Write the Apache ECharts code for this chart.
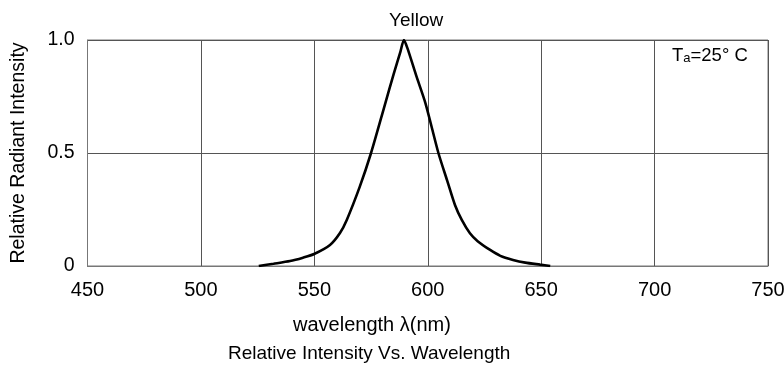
<!DOCTYPE html>
<html>
<head>
<meta charset="utf-8">
<script src="https://cdn.jsdelivr.net/npm/echarts@6/dist/echarts.min.js"></script>
<style>html,body{margin:0;padding:0;background:#fff;}#c{width:784px;height:371px;}</style>
</head>
<body>
<div id="c"></div>
<script>
const wavelengths = [525.5, 532, 539.3, 545, 549.9, 556.9, 561.3, 564.3, 570, 575, 581, 585, 588, 589.5, 591, 595, 599, 604.7, 608.5, 612, 615, 618.6, 622, 627.5, 632, 637.6, 643, 649.5, 654];
const intensity   = [0, 0.01, 0.022, 0.037, 0.053, 0.093, 0.146, 0.204, 0.35, 0.5, 0.71, 0.85, 0.95, 1.0, 0.965, 0.84, 0.72, 0.5, 0.38, 0.27, 0.204, 0.145, 0.11, 0.071, 0.045, 0.027, 0.015, 0.006, 0];
const xTicks = [450, 500, 550, 600, 650, 700, 750];
const yTicks = [0, 0.5, 1.0];
const yTickLabels = ['0', '0.5', '1.0'];
const titleText = 'Yellow';
const xName = 'wavelength \u03bb(nm)';
const yName = 'Relative Radiant Intensity';
const caption = 'Relative Intensity Vs. Wavelength';

const FONT = '"Liberation Sans", Arial, sans-serif';
const chart = echarts.init(document.getElementById('c'), null, {renderer: 'canvas'});
const seriesData = wavelengths.map((w, i) => [w, intensity[i]]);
chart.setOption({
  animation: false,
  backgroundColor: '#fff',
  title: {
    text: titleText, left: 384, top: 6,
    textStyle: {fontFamily: FONT, fontSize: 19, fontWeight: 'normal', color: '#000'}
  },
  grid: {left: 87.5, right: 16, top: 40, bottom: 105, show: true, borderColor: '#777', borderWidth: 1, outerBoundsMode: 'none', containLabel: false},
  xAxis: {
    type: 'value', min: xTicks[0], max: xTicks[xTicks.length - 1], interval: 50,
    axisLine: {show: true, lineStyle: {color: '#777', width: 1}},
    axisTick: {show: false},
    splitLine: {show: true, lineStyle: {color: '#555', width: 1}},
    axisLabel: {fontFamily: FONT, fontSize: 20, color: '#000', margin: 14}
  },
  yAxis: {
    type: 'value', min: yTicks[0], max: yTicks[yTicks.length - 1], interval: 0.5,
    name: yName, nameLocation: 'middle', nameGap: 59, nameRotate: 90,
    nameTextStyle: {fontFamily: FONT, fontSize: 19.5, color: '#000'},
    axisLine: {show: true, lineStyle: {color: '#777', width: 1}},
    axisTick: {show: false},
    splitLine: {show: true, lineStyle: {color: '#555', width: 1}},
    axisLabel: {
      fontFamily: FONT, fontSize: 19.5, color: '#000', margin: 13,
      formatter: v => { const i = yTicks.findIndex(t => Math.abs(t - v) < 1e-6); return i >= 0 ? yTickLabels[i] : ''; }
    }
  },
  graphic: [
    {type: 'text', left: 293, top: 315, style: {text: xName, font: '20px ' + FONT, fill: '#000'}},
    {type: 'text', left: 228, top: 344, style: {text: caption, font: '19px ' + FONT, fill: '#000'}},
    {type: 'text', left: 672, top: 46, style: {
      text: '{t|T}{a|a}{n|=25\u00b0 C}',
      rich: {
        t: {fontFamily: FONT, fontSize: 18.5, fill: '#000', color: '#000'},
        a: {fontFamily: FONT, fontSize: 13, fill: '#000', color: '#000', verticalAlign: 'bottom'},
        n: {fontFamily: FONT, fontSize: 18.5, fill: '#000', color: '#000'}
      }
    }}
  ],
  series: [{
    type: 'line', data: seriesData, smooth: 0.25, showSymbol: false,
    lineStyle: {color: '#000', width: 2.6}
  }]
});
</script>
</body>
</html>
